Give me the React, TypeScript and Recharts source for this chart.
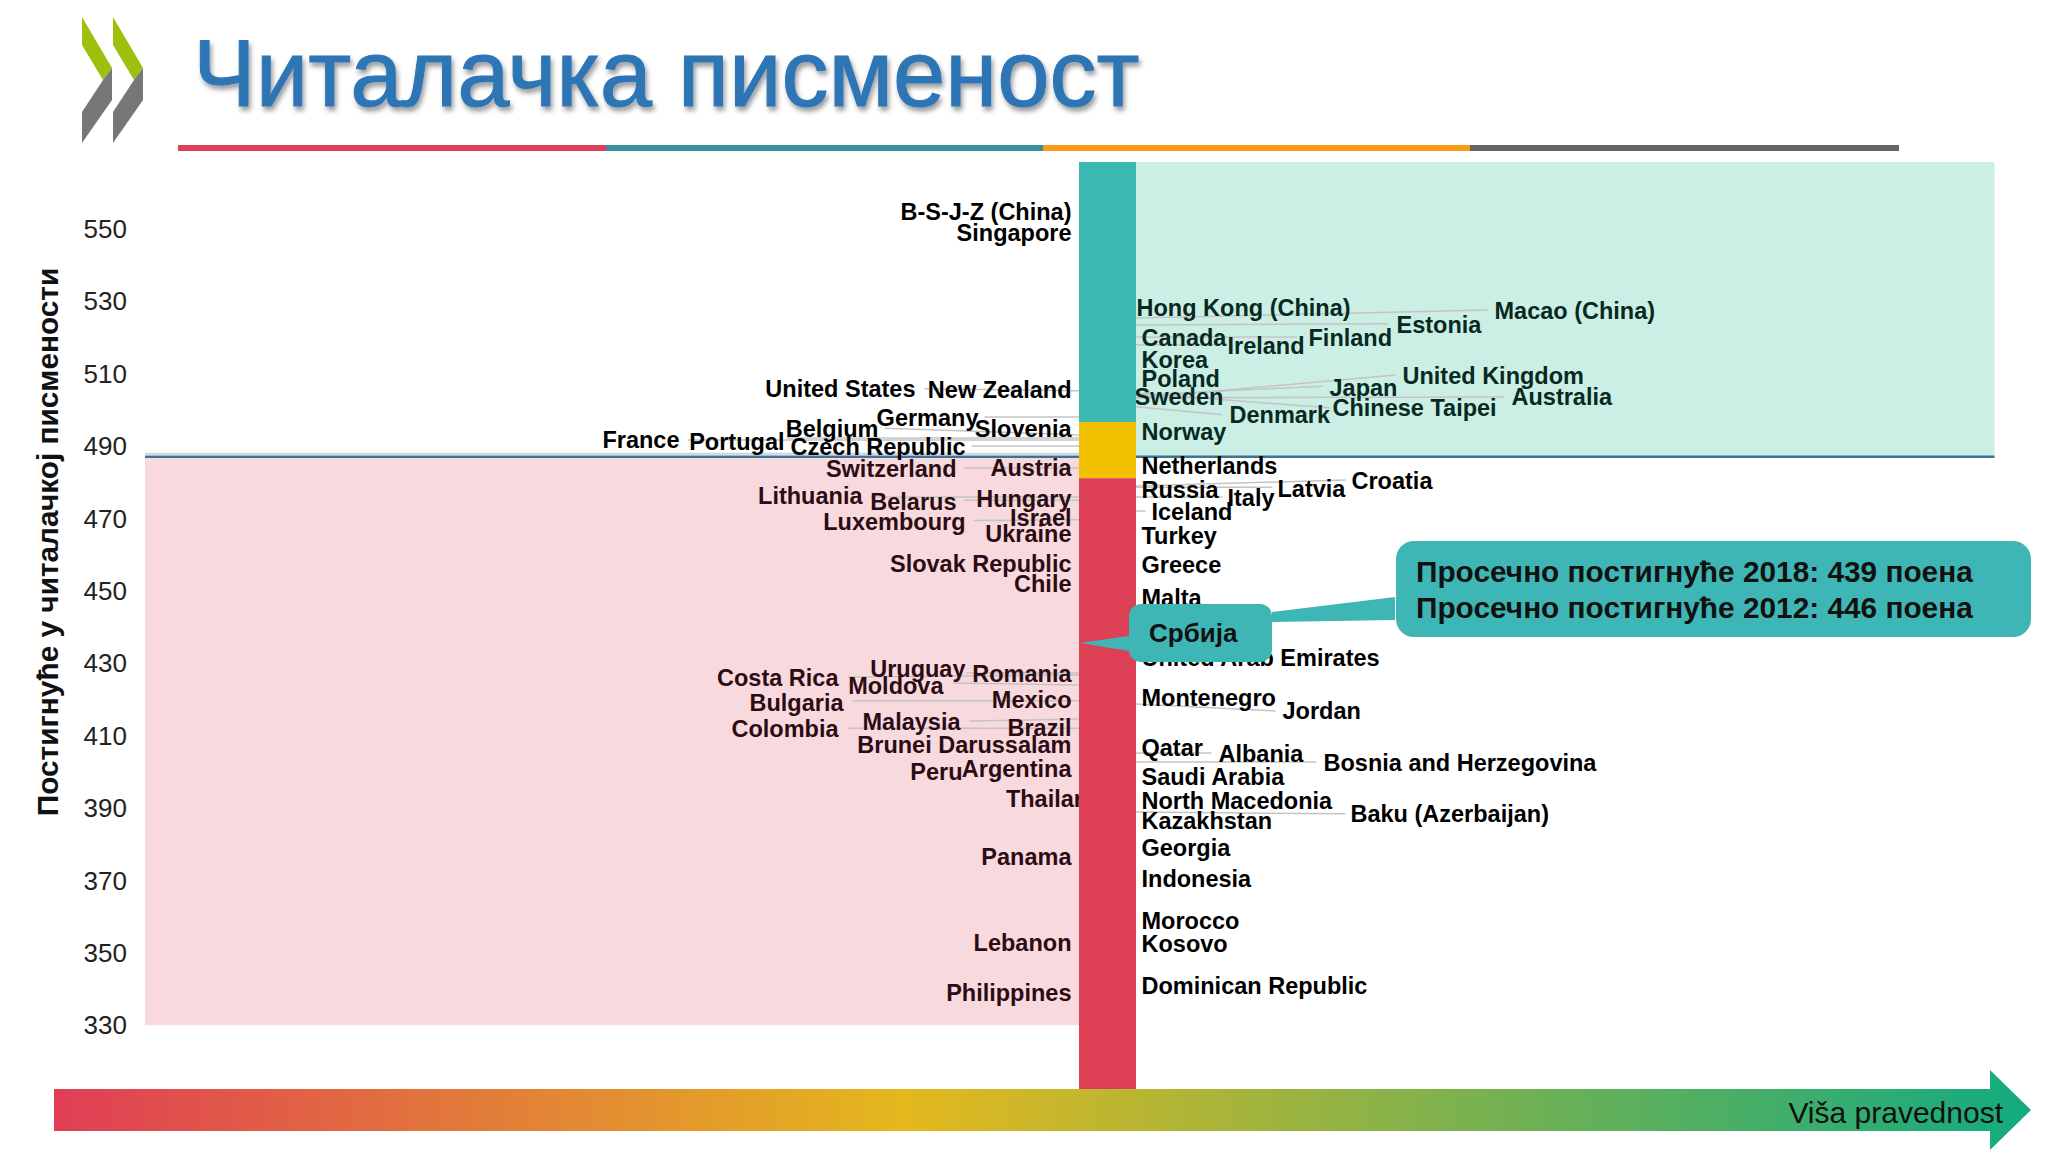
import React from "react";
import { ComposedChart, Bar, Scatter, XAxis, YAxis, ReferenceArea, ReferenceLine } from "recharts";

const FONT = "'Liberation Sans', Arial, sans-serif";

const yTicks = [330, 350, 370, 390, 410, 430, 450, 470, 490, 510, 530, 550];
const tierBands = [{ x: 0, low: 481.1, middle: 15.5, high: 71.8 }];
const oecdMean = 487;

const leftNames = ["B-S-J-Z (China)", "Singapore", "United States", "New Zealand", "Germany", "Slovenia", "Belgium", "France", "Portugal", "Czech Republic", "Switzerland", "Austria", "Lithuania", "Belarus", "Hungary", "Israel", "Luxembourg", "Ukraine", "Slovak Republic", "Chile", "Uruguay", "Romania", "Costa Rica", "Moldova", "Bulgaria", "Mexico", "Malaysia", "Brazil", "Colombia", "Brunei Darussalam", "Argentina", "Peru", "Thailand", "Panama", "Lebanon", "Philippines"];
const leftScores = [554.7, 548.9, 505.6, 505.3, 497.7, 494.8, 494.8, 491.6, 491.2, 489.8, 483.6, 484, 476.1, 474.6, 475.3, 470, 468.9, 465.6, 457.3, 451.9, 428.5, 427, 425.9, 423.8, 419.1, 419.8, 413.7, 412.2, 411.9, 407.5, 400.7, 400, 392.4, 376.5, 352.7, 339];
const leftX = [-36, -36, -192, -36, -129, -36, -229, -428, -323, -142, -151, -36, -245, -151, -36, -36, -142, -36, -36, -36, -142, -36, -269, -164, -264, -36, -147, -36, -269, -36, -36, -145, -5, -36, -36, -36];

const rightNames = ["Hong Kong (China)", "Macao (China)", "Estonia", "Canada", "Ireland", "Finland", "Korea", "Poland", "United Kingdom", "Japan", "Sweden", "Australia", "Chinese Taipei", "Denmark", "Norway", "Netherlands", "Russia", "Latvia", "Croatia", "Italy", "Iceland", "Turkey", "Greece", "Malta", "United Arab Emirates", "Montenegro", "Jordan", "Qatar", "Albania", "Bosnia and Herzegovina", "Saudi Arabia", "North Macedonia", "Baku (Azerbaijan)", "Kazakhstan", "Georgia", "Indonesia", "Morocco", "Kosovo", "Dominican Republic"];
const rightScores = [528, 527.3, 523.3, 519.7, 517.5, 519.7, 513.6, 508.5, 509.2, 506, 503.5, 503.5, 500.6, 498.4, 493.7, 484.4, 477.9, 478.2, 480.4, 475.7, 471.7, 465.2, 457, 447.9, 431.3, 420.5, 416.9, 406.5, 405, 402.5, 398.5, 392, 388.4, 386.3, 379, 370.4, 358.9, 352.4, 340.8];
const rightX = [29, 387, 289, 34, 120, 201, 34, 34, 295, 222, 27, 404, 225, 122, 34, 34, 34, 170, 244, 120, 44, 34, 34, 34, 34, 34, 175, 34, 111, 216, 34, 34, 243, 34, 34, 34, 34, 34, 34];

// leader lines: score at the column, score at the label, horizontal reach
const leftLeaderFrom = [505.2, 498, 493, 492.2, 491.6, 490, 483.9, 475.9, 475, 469.6, 426.7, 427.3, 424, 419.6, 414.6, 412];
const leftLeaderTo = [505.8, 498, 494.9, 492.2, 491.6, 490, 483.9, 475.9, 475, 469.4, 426.2, 427.3, 424.5, 419.6, 414, 412];
const leftLeaderX = [-183, -123, -223, -321, -420, -136, -143, -237, -143, -134, -260, -141, -155, -255, -138, -260];
const rightLeaderFrom = [525.3, 523.4, 520.1, 517.9, 503.2, 504, 503.3, 504.6, 500.8, 478.6, 478.9, 475.9, 472, 418.7, 405.2, 402.7, 388.9];
const rightLeaderTo = [527.5, 523.7, 520.1, 517.9, 509.6, 506.5, 503.5, 500.5, 498.6, 478.6, 480.6, 475.9, 472, 416.8, 405.2, 402.7, 388.4];
const rightLeaderX = [380, 281, 190, 110, 288, 215, 397, 222, 115, 165, 238, 115, 38, 168, 104, 209, 238];

const leftData = leftNames.map((name, i) => ({ name, x: leftX[i], y: leftScores[i] }));
const rightData = rightNames.map((name, i) => ({ name, x: rightX[i], y: rightScores[i] }));

const X_MIN = -962.5;
const X_MAX = 887;
const Y_MIN = 312.4;
const Y_MAX = 568.4;
const COL_EDGE = 28.5;

const labelShape = (anchor: string) => (p: any) => {
  const above = p.payload.y > oecdMean;
  const fill = anchor === "end" ? (above ? "#000" : "#2c0c14") : above ? "#08291f" : "#000";
  return (
    <text x={p.cx} y={p.cy} textAnchor={anchor} dominantBaseline="central" fontFamily={FONT} fontWeight={700} fontSize={23.5} fill={fill}>
      {p.payload.name}
    </text>
  );
};

const columnShape = (p: any) => (
  <rect x={p.x + p.width / 2 - 28.5} y={p.y} width={57} height={p.height} fill={p.fill} />
);

const leader = (from: number, to: number, reach: number, edge: number, key: string) => (
  <ReferenceLine
    key={key}
    segment={[{ x: edge, y: from }, { x: reach, y: to }]}
    stroke="#c4c4c4"
    strokeWidth={1.5}
    ifOverflow="visible"
  />
);

function Decor() {
  return (
    <svg width={2048} height={1152} style={{ position: "absolute", left: 0, top: 0, pointerEvents: "none" }}>
      <defs>
        <linearGradient id="equity" x1="0" x2="1" y1="0" y2="0">
          <stop offset="0" stopColor="#e03e55" />
          <stop offset="0.43" stopColor="#e4b81e" />
          <stop offset="1" stopColor="#12ab80" />
        </linearGradient>
        <filter id="ts" x="-5%" y="-20%" width="110%" height="140%">
          <feDropShadow dx="2" dy="4" stdDeviation="2.5" floodColor="#000" floodOpacity="0.4" />
        </filter>
      </defs>
      {/* logo */}
      <polygon points="82,17 112,68 103,80 82,45" fill="#9cc00c" />
      <polygon points="113,17 143,68 134,80 113,45" fill="#9cc00c" />
      <polygon points="112,68 112,100 82,143 82,112 103,80" fill="#77777a" />
      <polygon points="143,68 143,100 113,143 113,112 134,80" fill="#77777a" />
      {/* title */}
      <text x={193} y={106} fontFamily={FONT} fontSize={94} fill="#2e75b6" stroke="#2e75b6" strokeWidth={1} filter="url(#ts)">Читалачка писменост</text>
      {/* rule */}
      <rect x={178} y={145} width={428} height={6} fill="#dc3f57" />
      <rect x={606} y={145} width={437} height={6} fill="#3a8f9e" />
      <rect x={1043} y={145} width={427} height={6} fill="#f99c18" />
      <rect x={1470} y={145} width={429} height={6} fill="#666" />
      {/* arrow */}
      <polygon points="54,1089 1990,1089 1990,1070 2031,1110 1990,1150 1990,1131 54,1131" fill="url(#equity)" />
      <text x={2003} y={1112} textAnchor="end" dominantBaseline="central" fontFamily={FONT} fontSize={30} fill="#111">Viša pravednost</text>
      {/* axis title */}
      <text transform="translate(47,542) rotate(-90)" textAnchor="middle" dominantBaseline="central" fontFamily={FONT} fontWeight={700} fontSize={29.8} fill="#111">Постигнуће у читалачкој писмености</text>
      {/* callouts */}
      <polygon points="1272,612 1395,597 1395,620 1272,622" fill="#3fb6b6" />
      <rect x={1396} y={541} width={635} height={96} rx={18} fill="#3fb6b6" />
      <polygon points="1080,643 1135,635 1135,652" fill="#3fb6b6" />
      <rect x={1129} y={604} width={143} height={58} rx={12} fill="#3fb6b6" />
      <text x={1149} y={633} dominantBaseline="central" fontFamily={FONT} fontWeight={700} fontSize={26} fill="#111">Србија</text>
      <text x={1416} y={571} dominantBaseline="central" fontFamily={FONT} fontWeight={700} fontSize={29.8} fill="#111">Просечно постигнуће 2018: 439 поена</text>
      <text x={1416} y={607} dominantBaseline="central" fontFamily={FONT} fontWeight={700} fontSize={29.8} fill="#111">Просечно постигнуће 2012: 446 поена</text>
    </svg>
  );
}

export default function App() {
  return (
    <div style={{ position: "absolute", left: 0, top: 0, width: 2048, height: 1152, background: "#fff", overflow: "hidden" }}>
      <ComposedChart
        width={2048}
        height={1152}
        data={tierBands}
        margin={{ top: 162, right: 53.5, bottom: 63, left: 0 }}
        barCategoryGap={0}
      >
        <XAxis type="number" dataKey="x" domain={[X_MIN, X_MAX]} hide allowDataOverflow />
        <YAxis
          type="number"
          domain={[Y_MIN, Y_MAX]}
          ticks={yTicks}
          width={145}
          axisLine={false}
          tickLine={false}
          interval={0}
          allowDataOverflow
          tickMargin={12}
          tick={{ fontFamily: FONT, fontSize: 26, fill: "#222" }}
        />
        <ReferenceArea x1={X_MIN} x2={-COL_EDGE} y1={330} y2={oecdMean} fill="#dc3f55" fillOpacity={0.2} stroke="none" ifOverflow="visible" />
        <ReferenceArea x1={COL_EDGE} x2={X_MAX} y1={oecdMean} y2={Y_MAX} fill="#2fbf95" fillOpacity={0.25} stroke="none" ifOverflow="visible" />
        {leftLeaderFrom.map((f, i) => leader(f, leftLeaderTo[i], leftLeaderX[i], -COL_EDGE, "l" + i))}
        {rightLeaderFrom.map((f, i) => leader(f, rightLeaderTo[i], rightLeaderX[i], COL_EDGE, "r" + i))}
        <ReferenceLine segment={[{ x: X_MIN, y: oecdMean + 0.8 }, { x: -COL_EDGE, y: oecdMean + 0.8 }]} stroke="#cfd4da" strokeWidth={2} ifOverflow="visible" />
        <ReferenceLine segment={[{ x: X_MIN, y: oecdMean }, { x: X_MAX, y: oecdMean }]} stroke="#3d7496" strokeWidth={2.5} ifOverflow="visible" />
        <Scatter data={leftData} dataKey="y" shape={labelShape("end")} isAnimationActive={false} zIndex={500} />
        <Scatter data={rightData} dataKey="y" shape={labelShape("start")} isAnimationActive={false} zIndex={500} />
        <Bar dataKey="low" stackId="tier" fill="#dd3f55" shape={columnShape} isAnimationActive={false} zIndex={700} />
        <Bar dataKey="middle" stackId="tier" fill="#f1c000" shape={columnShape} isAnimationActive={false} zIndex={700} />
        <Bar dataKey="high" stackId="tier" fill="#3cb9b3" shape={columnShape} isAnimationActive={false} zIndex={700} />
      </ComposedChart>
      <Decor />
    </div>
  );
}
